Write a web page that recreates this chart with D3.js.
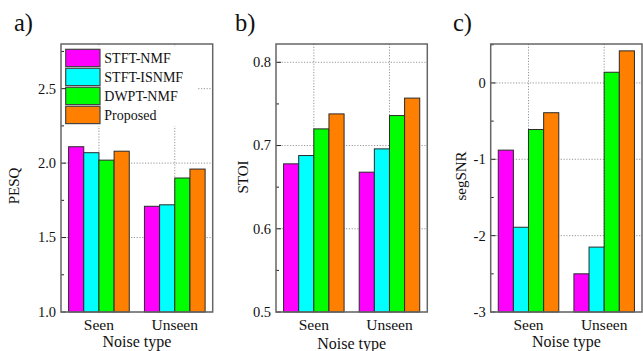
<!DOCTYPE html>
<html>
<head>
<meta charset="utf-8">
<script src="https://cdn.jsdelivr.net/npm/d3@7"></script>
<style>
	body { margin: 0; background: #fff; }
	svg { display: block; font-family: "Liberation Serif", "DejaVu Serif", serif; }
</style>
</head>
<body>
<svg id="graphic" width="643" height="351"></svg>
<script>
var categories = ["Seen", "Unseen"];
var methods = ["STFT-NMF", "STFT-ISNMF", "DWPT-NMF", "Proposed"];
var methodColors = ["#ff00ff", "#00ffff", "#00ff00", "#ff8000"];

// rows = noise type, columns = method
var pesqValues = [[2.11, 2.07, 2.02, 2.08], [1.71, 1.72, 1.90, 1.96]];
var stoiValues = [[0.678, 0.688, 0.720, 0.738], [0.668, 0.696, 0.736, 0.757]];
var segsnrValues = [[-0.88, -1.89, -0.61, -0.39], [-2.50, -2.15, 0.14, 0.42]];

var pesqTicks = [1.0, 1.5, 2.0, 2.5];
var pesqMinor = [1.25, 1.75, 2.25, 2.75];
var stoiTicks = [0.5, 0.6, 0.7, 0.8];
var stoiMinor = [0.55, 0.65, 0.75];
var segsnrTicks = [-3, -2, -1, 0];
var segsnrMinor = [-2.5, -1.5, -0.5, 0.5];

var PLOT_TOP = 44;
var PLOT_BOTTOM = 312;

var panels = [
	{ tag: "a)", tagX: 14, x0: 61, x1: 212.7, title: "PESQ", titleX: 19, titleY: 186, xTitleY: 347,
	  values: pesqValues, domain: [1.0, 2.8], ticks: pesqTicks, minor: pesqMinor, fmt: d3.format(".1f"), legend: true },
	{ tag: "b)", tagX: 235, x0: 276, x1: 427.3, title: "STOI", titleX: 248, titleY: 177, xTitleY: 349,
	  values: stoiValues, domain: [0.5, 0.822], ticks: stoiTicks, minor: stoiMinor, fmt: d3.format(".1f"), legend: false },
	{ tag: "c)", tagX: 453, x0: 490.7, x1: 642, title: "segSNR", titleX: 466, titleY: 176, xTitleY: 347,
	  values: segsnrValues, domain: [-3, 0.51], ticks: segsnrTicks, minor: segsnrMinor, fmt: function(d) { return d < 0 ? "-" + (-d) : "" + d; }, legend: false }
];


function drawPanel(svg, p) {
	var g = svg.append("g");

	var x = d3.scaleBand()
		.domain(categories)
		.range([p.x0, p.x1])
		.paddingInner(0.2)
		.paddingOuter(0.1);

	var xm = d3.scaleBand()
		.domain(methods)
		.range([0, x.bandwidth()]);

	var y = d3.scaleLinear()
		.domain(p.domain)
		.range([PLOT_BOTTOM, PLOT_TOP]);

	// dotted grid
	g.append("g").selectAll("line.hgrid")
		.data(p.ticks)
		.enter().append("line")
			.attr("x1", p.x0).attr("x2", p.x1)
			.attr("y1", function(d) { return y(d); })
			.attr("y2", function(d) { return y(d); })
			.attr("stroke", "#8a8a8a")
			.attr("stroke-width", 0.9)
			.attr("stroke-dasharray", "1.2,1.6");

	g.append("g").selectAll("line.vgrid")
		.data(categories)
		.enter().append("line")
			.attr("x1", function(d) { return x(d) + x.bandwidth() / 2; })
			.attr("x2", function(d) { return x(d) + x.bandwidth() / 2; })
			.attr("y1", PLOT_TOP).attr("y2", PLOT_BOTTOM)
			.attr("stroke", "#8a8a8a")
			.attr("stroke-width", 0.9)
			.attr("stroke-dasharray", "1.2,1.6");

	// bars
	var groups = g.append("g").selectAll("g")
		.data(p.values)
		.enter().append("g")
			.attr("transform", function(d, i) { return "translate(" + x(categories[i]) + ",0)"; });

	groups.selectAll("rect")
		.data(function(d) { return d; })
		.enter().append("rect")
			.attr("x", function(d, j) { return xm(methods[j]); })
			.attr("width", xm.bandwidth())
			.attr("y", function(d) { return Math.min(y(d), PLOT_BOTTOM); })
			.attr("height", function(d) { return Math.abs(PLOT_BOTTOM - y(d)); })
			.attr("fill", function(d, j) { return methodColors[j]; })
			.attr("stroke", "#2a2a2a")
			.attr("stroke-width", 1);

	// legend (panel a only)
	if (p.legend) {
		var lg = g.append("g");
		lg.append("rect")
			.attr("x", p.x0 + 1).attr("y", PLOT_TOP + 3)
			.attr("width", 136).attr("height", 79)
			.attr("fill", "#fff");

		var rows = lg.selectAll("g.item")
			.data(methods)
			.enter().append("g")
				.attr("transform", function(d, i) { return "translate(" + (p.x0 + 4.7) + "," + (49.3 + i * 19) + ")"; });

		rows.append("rect")
			.attr("width", 34.3).attr("height", 17.3)
			.attr("fill", function(d, i) { return methodColors[i]; })
			.attr("stroke", "#444")
			.attr("stroke-width", 1.2);

		rows.append("text")
			.attr("x", 38.6).attr("y", 8.8)
			.attr("dy", "0.35em")
			.attr("font-size", "14px")
			.attr("fill", "#111")
			.text(function(d) { return d; });
	}

	// ticks, drawn inward
	g.append("g").selectAll("line")
		.data(p.ticks)
		.enter().append("line")
			.attr("x1", p.x0).attr("x2", p.x0 + 5)
			.attr("y1", function(d) { return y(d); })
			.attr("y2", function(d) { return y(d); })
			.attr("stroke", "#222").attr("stroke-width", 1);

	g.append("g").selectAll("line")
		.data(p.minor)
		.enter().append("line")
			.attr("x1", p.x0).attr("x2", p.x0 + 3)
			.attr("y1", function(d) { return y(d); })
			.attr("y2", function(d) { return y(d); })
			.attr("stroke", "#222").attr("stroke-width", 1);

	g.append("g").selectAll("text")
		.data(p.ticks)
		.enter().append("text")
			.attr("x", p.x0 - 5)
			.attr("y", function(d) { return y(d); })
			.attr("dy", "0.34em")
			.attr("text-anchor", "end")
			.attr("font-size", "14.5px")
			.attr("fill", "#111")
			.text(p.fmt);

	// frame
	g.append("rect")
		.attr("x", p.x0).attr("y", PLOT_TOP)
		.attr("width", p.x1 - p.x0).attr("height", PLOT_BOTTOM - PLOT_TOP)
		.attr("fill", "none")
		.attr("stroke", "#666")
		.attr("stroke-width", 1.5);

	// category labels
	g.append("g").selectAll("text")
		.data(categories)
		.enter().append("text")
			.attr("x", function(d) { return x(d) + x.bandwidth() / 2; })
			.attr("y", 329.5)
			.attr("text-anchor", "middle")
			.attr("font-size", "15.5px")
			.attr("fill", "#111")
			.text(function(d) { return d; });

	g.append("text")
		.attr("x", (p.x0 + p.x1) / 2)
		.attr("y", p.xTitleY)
		.attr("text-anchor", "middle")
		.attr("font-size", "16px")
		.attr("fill", "#111")
		.text("Noise type");

	g.append("text")
		.attr("transform", "translate(" + p.titleX + "," + p.titleY + ") rotate(-90)")
		.attr("text-anchor", "middle")
		.attr("font-size", "15px")
		.attr("fill", "#111")
		.text(p.title);

	g.append("text")
		.attr("x", p.tagX)
		.attr("y", 31)
		.attr("font-size", "24.5px")
		.attr("fill", "#111")
		.text(p.tag);
}


var svg = d3.select("#graphic");
for (var i = 0; i < panels.length; i++) {
	drawPanel(svg, panels[i]);
}
</script>
</body>
</html>
